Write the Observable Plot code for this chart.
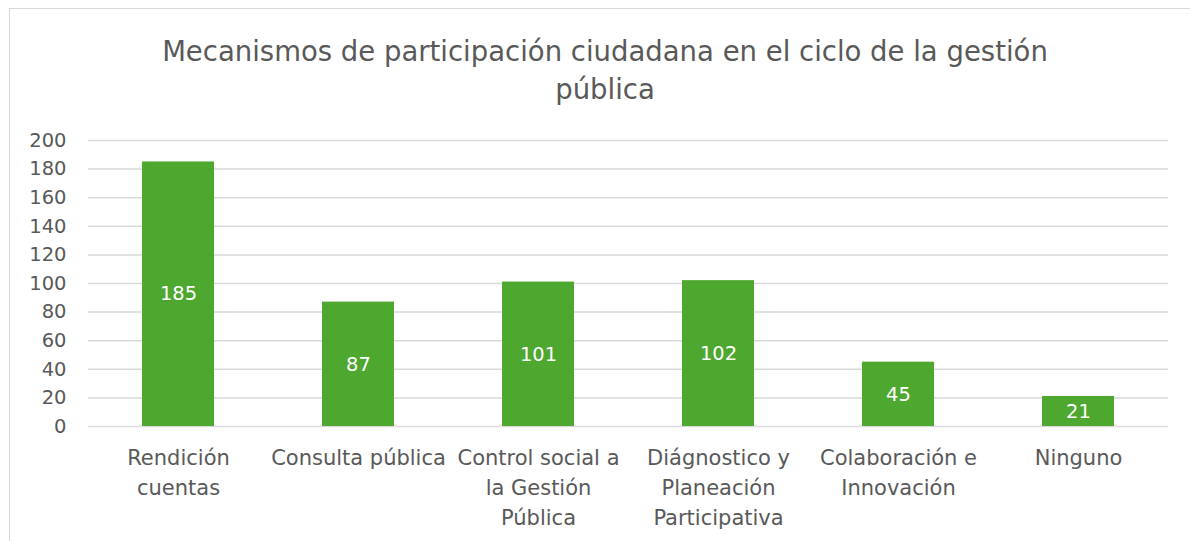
<!DOCTYPE html>
<html>
<head>
<meta charset="utf-8">
<script src="https://cdn.jsdelivr.net/npm/d3@7"></script>
<script src="https://cdn.jsdelivr.net/npm/@observablehq/plot@0.6"></script>
<style>
  html, body { margin: 0; padding: 0; background: #fff; }
  body { width: 1190px; height: 541px; position: relative; overflow: hidden; font-family: "DejaVu Sans", sans-serif; }
  #frame { position: absolute; left: 9px; top: 8px; width: 1220px; height: 600px; border: 1.5px solid #d9d9d9; box-sizing: border-box; }
  #title { position: absolute; left: 10px; width: 1190px; top: 32px; text-align: center; color: #595959; font-size: 27.5px; line-height: 38px; }
  #chart { position: absolute; left: 0; top: 0; }
</style>
</head>
<body>
<div id="frame"></div>
<div id="title">Mecanismos de participación ciudadana en el ciclo de la gestión<br>pública</div>
<div id="chart"></div>
<script>
const categories = ["Rendición cuentas", "Consulta pública", "Control social a la Gestión Pública", "Diágnostico y Planeación Participativa", "Colaboración e Innovación", "Ninguno"];
const categoryLabels = ["Rendición\ncuentas", "Consulta pública", "Control social a\nla Gestión\nPública", "Diágnostico y\nPlaneación\nParticipativa", "Colaboración e\nInnovación", "Ninguno"];
const values = [185, 87, 101, 102, 45, 21];
const yTicks = [0, 20, 40, 60, 80, 100, 120, 140, 160, 180, 200];

const data = categories.map((c, i) => ({category: c, value: values[i]}));
const labelOf = new Map(categories.map((c, i) => [c, categoryLabels[i]]));

const plot = Plot.plot({
  width: 1190,
  height: 541,
  marginLeft: 88,
  marginRight: 22,
  marginTop: 140,
  marginBottom: 115,
  style: {fontFamily: "'DejaVu Sans', sans-serif", color: "#595959", background: "transparent"},
  x: {domain: categories, paddingInner: 0.6, paddingOuter: 0.3, label: null},
  y: {domain: [0, 200], label: null},
  marks: [
    Plot.gridY(yTicks, {stroke: "#d9d9d9", strokeOpacity: 1, strokeWidth: 1.5}),
    Plot.barY(data, {x: "category", y: "value", fill: "#4ea72e"}),
    Plot.text(data, {x: "category", y: d => d.value / 2, text: d => String(d.value), fill: "white", fontSize: 19.5}),
    Plot.axisY({ticks: yTicks, tickSize: 0, tickPadding: 22, fontSize: 19.5, fill: "#595959", label: null}),
    Plot.axisX({tickSize: 0, tickPadding: 17, fontSize: 21, fill: "#595959", lineHeight: 1.43, tickFormat: d => labelOf.get(d), label: null, textOverflow: null})
  ]
});
document.getElementById("chart").appendChild(plot);
</script>
</body>
</html>
